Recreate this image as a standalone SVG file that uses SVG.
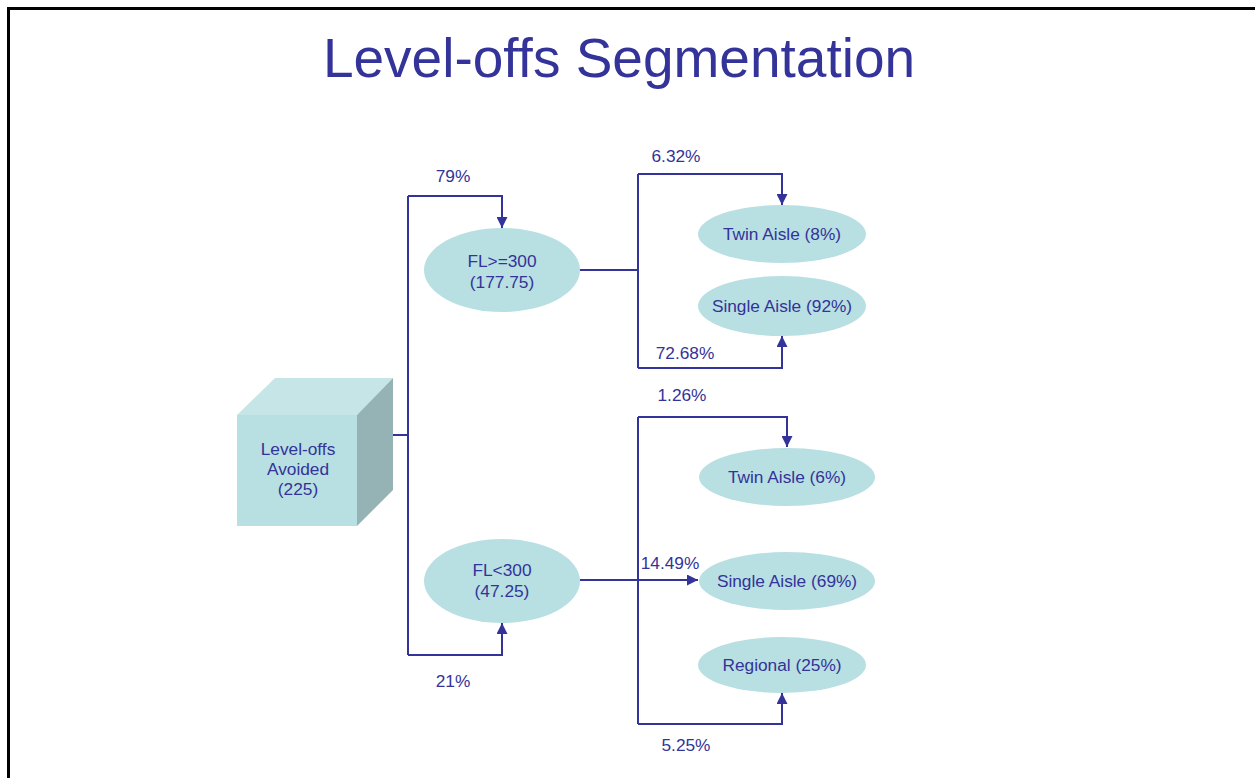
<svg xmlns="http://www.w3.org/2000/svg" width="1255" height="778" viewBox="0 0 1255 778">
  <style>
    text { font-family: "Liberation Sans", Arial, sans-serif; fill: #333399; }
    .title { font-size: 55px; }
    .lbl { font-size: 17.3px; text-anchor: middle; }
    .pct { font-size: 17.3px; text-anchor: middle; }
    .node { fill: #b8dfe2; }
    .wire { fill: none; stroke: #333399; stroke-width: 2; }
  </style>
  <defs>
    <marker id="arrow" viewBox="0 0 10 10" refX="10" refY="5" markerWidth="12" markerHeight="11" markerUnits="userSpaceOnUse" orient="auto">
      <path d="M0,0 L10,5 L0,10 Z" fill="#333399"/>
    </marker>
  </defs>
  <rect width="1255" height="778" fill="#ffffff"/>
  <!-- frame: top and left rule -->
  <path d="M8.5,778 V8.5 H1255" fill="none" stroke="#000000" stroke-width="3"/>

  <text class="title" x="619" y="77" text-anchor="middle">Level-offs Segmentation</text>

  <g id="connectors">
    <!-- root split -->
    <path class="wire" d="M393,435 H408"/>
    <path class="wire" d="M408,196 V655"/>
    <path class="wire" d="M408,196 H502 V228" marker-end="url(#arrow)"/>
    <path class="wire" d="M408,655 H502 V623" marker-end="url(#arrow)"/>
    <!-- FL>=300 split -->
    <path class="wire" d="M580,270 H638"/>
    <path class="wire" d="M638,174 V368"/>
    <path class="wire" d="M638,174 H782 V205" marker-end="url(#arrow)"/>
    <path class="wire" d="M638,368 H782 V336" marker-end="url(#arrow)"/>
    <!-- FL<300 split -->
    <path class="wire" d="M638,417 V724"/>
    <path class="wire" d="M638,417 H787 V447" marker-end="url(#arrow)"/>
    <path class="wire" d="M580,580 H698" stroke-width="2.6" marker-end="url(#arrow)"/>
    <path class="wire" d="M638,724 H782 V693" marker-end="url(#arrow)"/>

    <text class="pct" x="453" y="182">79%</text>
    <text class="pct" x="453" y="687">21%</text>
    <text class="pct" x="676" y="162">6.32%</text>
    <text class="pct" x="685" y="359">72.68%</text>
    <text class="pct" x="682" y="401">1.26%</text>
    <text class="pct" x="670" y="569">14.49%</text>
    <text class="pct" x="686" y="751">5.25%</text>
  </g>

  <g id="root">
    <polygon points="237,415 275,378 393,378 357,415" fill="#c6e5e7"/>
    <polygon points="357,415 393,378 393,490 357,526" fill="#95b3b5"/>
    <rect x="237" y="415" width="120" height="111" fill="#b8dfe2"/>
    <text class="lbl" x="298" y="455">Level-offs</text>
    <text class="lbl" x="298" y="475">Avoided</text>
    <text class="lbl" x="298" y="495">(225)</text>
  </g>

  <g id="fl-high">
    <ellipse class="node" cx="502" cy="270" rx="78" ry="42"/>
    <text class="lbl" x="502" y="267">FL&gt;=300</text>
    <text class="lbl" x="502" y="288">(177.75)</text>
  </g>

  <g id="fl-low">
    <ellipse class="node" cx="502" cy="581" rx="78" ry="42"/>
    <text class="lbl" x="502" y="576">FL&lt;300</text>
    <text class="lbl" x="502" y="597">(47.25)</text>
  </g>

  <g id="high-twin">
    <ellipse class="node" cx="782" cy="234" rx="84" ry="29"/>
    <text class="lbl" x="782" y="240">Twin Aisle (8%)</text>
  </g>

  <g id="high-single">
    <ellipse class="node" cx="782" cy="306" rx="84" ry="30"/>
    <text class="lbl" x="782" y="312">Single Aisle (92%)</text>
  </g>

  <g id="low-twin">
    <ellipse class="node" cx="787" cy="477" rx="88" ry="29"/>
    <text class="lbl" x="787" y="483">Twin Aisle (6%)</text>
  </g>

  <g id="low-single">
    <ellipse class="node" cx="787" cy="581" rx="88" ry="29"/>
    <text class="lbl" x="787" y="587">Single Aisle (69%)</text>
  </g>

  <g id="low-regional">
    <ellipse class="node" cx="782" cy="665" rx="84" ry="28"/>
    <text class="lbl" x="782" y="671">Regional (25%)</text>
  </g>
</svg>
